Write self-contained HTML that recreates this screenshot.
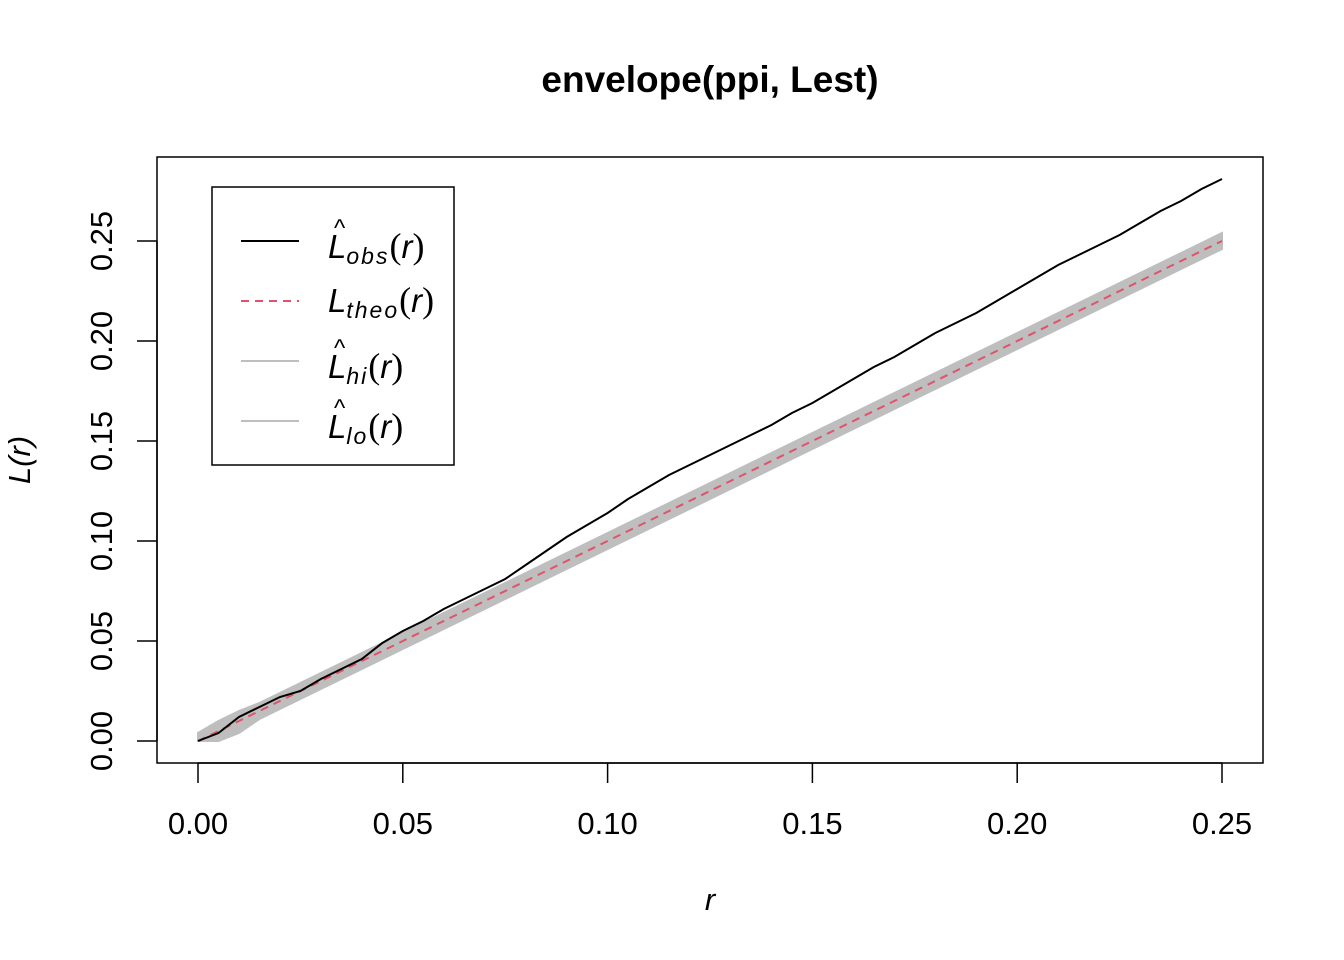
<!DOCTYPE html>
<html><head><meta charset="utf-8"><style>
body{margin:0;background:#fff}
svg{display:block;font-family:"Liberation Sans",Arial,sans-serif}
</style></head><body>
<svg id="chart" width="1344" height="960" viewBox="0 0 1344 960">
<rect width="1344" height="960" fill="#fff"/>
<text x="710" y="92" text-anchor="middle" font-size="37" font-weight="bold">envelope(ppi, Lest)</text>
<g id="band"></g>
<g id="lines"></g>
<rect x="157" y="157" width="1106" height="606" fill="none" stroke="#000" stroke-width="1.5"/>
<g id="xaxis"></g>
<g id="yaxis"></g>
<text x="710" y="910" text-anchor="middle" font-size="31" font-style="italic">r</text>
<text transform="translate(30,460) rotate(-90)" text-anchor="middle" font-size="31" font-style="italic">L(r)</text>
<g>
<rect x="212" y="187" width="242" height="278" fill="#fff" stroke="#000" stroke-width="1.5"/>
<line x1="241" y1="241" x2="299" y2="241" stroke="#000" stroke-width="2"/>
<line x1="241" y1="301" x2="299" y2="301" stroke="#DF536B" stroke-width="2" stroke-dasharray="8,6"/>
<line x1="241" y1="361" x2="299" y2="361" stroke="#BEBEBE" stroke-width="2"/>
<line x1="241" y1="421" x2="299" y2="421" stroke="#BEBEBE" stroke-width="2"/>
<g font-size="33" font-style="italic">
<text x="328" y="258">L<tspan font-size="23" dy="6" letter-spacing="2">obs</tspan><tspan dy="-6" font-family="Liberation Serif" font-style="normal" font-size="36">(</tspan>r<tspan font-family="Liberation Serif" font-style="normal" font-size="36">)</tspan></text>
<text x="334" y="236" font-size="24" font-style="normal">^</text>
<text x="328" y="312">L<tspan font-size="23" dy="6" letter-spacing="2">theo</tspan><tspan dy="-6" font-family="Liberation Serif" font-style="normal" font-size="36">(</tspan>r<tspan font-family="Liberation Serif" font-style="normal" font-size="36">)</tspan></text>
<text x="328" y="378">L<tspan font-size="23" dy="6" letter-spacing="2">hi</tspan><tspan dy="-6" font-family="Liberation Serif" font-style="normal" font-size="36">(</tspan>r<tspan font-family="Liberation Serif" font-style="normal" font-size="36">)</tspan></text>
<text x="334" y="356" font-size="24" font-style="normal">^</text>
<text x="328" y="438">L<tspan font-size="23" dy="6" letter-spacing="2">lo</tspan><tspan dy="-6" font-family="Liberation Serif" font-style="normal" font-size="36">(</tspan>r<tspan font-family="Liberation Serif" font-style="normal" font-size="36">)</tspan></text>
<text x="334" y="416" font-size="24" font-style="normal">^</text>
</g>
</g>
</svg>
<script>
const rVals=[0,0.005,0.01,0.015,0.02,0.025,0.03,0.035,0.04,0.045,0.05,0.055,0.06,0.065,0.07,0.075,0.08,0.085,0.09,0.095,0.1,0.105,0.11,0.115,0.12,0.125,0.13,0.135,0.14,0.145,0.15,0.155,0.16,0.165,0.17,0.175,0.18,0.185,0.19,0.195,0.2,0.205,0.21,0.215,0.22,0.225,0.23,0.235,0.24,0.245,0.25];
const obsVals=[0,0.004,0.012,0.017,0.022,0.025,0.031,0.036,0.041,0.049,0.055,0.060,0.066,0.071,0.076,0.081,0.088,0.095,0.102,0.108,0.114,0.121,0.127,0.133,0.138,0.143,0.148,0.153,0.158,0.164,0.169,0.175,0.181,0.187,0.192,0.198,0.204,0.209,0.214,0.220,0.226,0.232,0.238,0.243,0.248,0.253,0.259,0.265,0.270,0.276,0.281];
const theoVals=[0,0.005,0.01,0.015,0.02,0.025,0.03,0.035,0.04,0.045,0.05,0.055,0.06,0.065,0.07,0.075,0.08,0.085,0.09,0.095,0.1,0.105,0.11,0.115,0.12,0.125,0.13,0.135,0.14,0.145,0.15,0.155,0.16,0.165,0.17,0.175,0.18,0.185,0.19,0.195,0.2,0.205,0.21,0.215,0.22,0.225,0.23,0.235,0.24,0.245,0.25];
const hiVals=[0.004,0.010,0.015,0.019,0.024,0.029,0.034,0.039,0.044,0.049,0.054,0.059,0.064,0.069,0.074,0.079,0.084,0.089,0.094,0.099,0.104,0.109,0.114,0.119,0.124,0.129,0.134,0.139,0.144,0.149,0.154,0.159,0.164,0.169,0.174,0.179,0.184,0.189,0.194,0.199,0.204,0.209,0.214,0.219,0.224,0.229,0.234,0.239,0.244,0.249,0.254];
const loVals=[0,0,0.004,0.011,0.016,0.021,0.026,0.031,0.036,0.041,0.046,0.051,0.056,0.061,0.066,0.071,0.076,0.081,0.086,0.091,0.096,0.101,0.106,0.111,0.116,0.121,0.126,0.131,0.136,0.141,0.146,0.151,0.156,0.161,0.166,0.171,0.176,0.181,0.186,0.191,0.196,0.201,0.206,0.211,0.216,0.221,0.226,0.231,0.236,0.241,0.246];
const xTicks=[0,0.05,0.1,0.15,0.2,0.25];
const xTickLabels=["0.00","0.05","0.10","0.15","0.20","0.25"];
const yTicks=[0,0.05,0.1,0.15,0.2,0.25];
const yTickLabels=["0.00","0.05","0.10","0.15","0.20","0.25"];
const NS="http://www.w3.org/2000/svg";
const xS=v=>198+v*4096;
const yS=v=>741-v*2000;
function mk(t,a,p){const e=document.createElementNS(NS,t);for(const k in a)e.setAttribute(k,a[k]);p.appendChild(e);return e;}
const band=document.getElementById('band');
let pts=rVals.map((r,i)=>xS(r)+","+yS(hiVals[i]));
pts=pts.concat(rVals.map((r,i)=>xS(r)+","+yS(loVals[i])).reverse());
const poly=mk('polygon',{points:pts.join(" "),fill:"#BEBEBE",stroke:"#BEBEBE","stroke-width":2},band);


const lines=document.getElementById('lines');
const theo=mk('polyline',{points:rVals.map((r,i)=>xS(r)+","+yS(theoVals[i])).join(" "),fill:"none",stroke:"#DF536B","stroke-width":2,"stroke-dasharray":"8,6"},lines);


const obs=mk('polyline',{points:rVals.map((r,i)=>xS(r)+","+yS(obsVals[i])).join(" "),fill:"none",stroke:"#000","stroke-width":2},lines);


const xa=document.getElementById('xaxis');
mk('line',{x1:xS(xTicks[0]),y1:763,x2:xS(xTicks[xTicks.length-1]),y2:763,stroke:"#000","stroke-width":1.5},xa);
xTicks.forEach((v,i)=>{
 const t=mk('line',{x1:xS(v),y1:763,x2:xS(v),y2:783,stroke:"#000","stroke-width":1.5},xa);
 
 
 const l=mk('text',{x:xS(v),y:834,"text-anchor":"middle","font-size":31},xa);
 l.textContent=xTickLabels[i];
 
 
});
const ya=document.getElementById('yaxis');
mk('line',{x1:157,y1:yS(yTicks[0]),x2:157,y2:yS(yTicks[yTicks.length-1]),stroke:"#000","stroke-width":1.5},ya);
yTicks.forEach((v,i)=>{
 const t=mk('line',{x1:137,y1:yS(v),x2:157,y2:yS(v),stroke:"#000","stroke-width":1.5},ya);
 
 
 const l=mk('text',{transform:"translate(112,"+yS(v)+") rotate(-90)","text-anchor":"middle","font-size":31},ya);
 l.textContent=yTickLabels[i];
 
 
});
</script>
</body></html>
